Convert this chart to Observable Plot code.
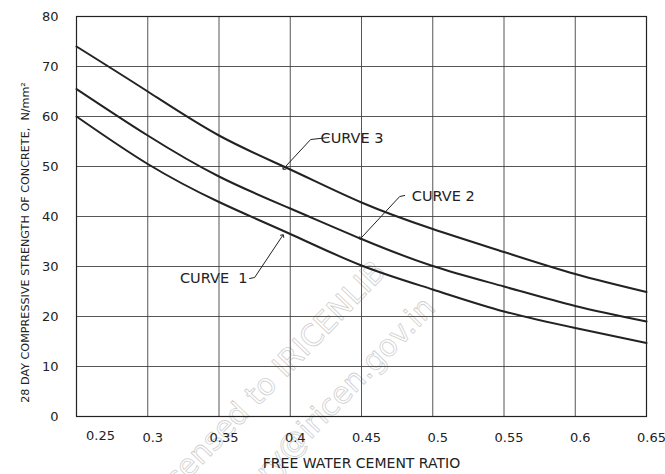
<!DOCTYPE html>
<html>
<head>
<meta charset="utf-8">
<script src="https://cdn.jsdelivr.net/npm/d3@7"></script>
<script src="https://cdn.jsdelivr.net/npm/@observablehq/plot@0.6"></script>
<style>
  html, body { margin: 0; padding: 0; background: #fff; }
  #chart svg { display: block; }
</style>
</head>
<body>
<div id="chart"></div>
<script>
// ---- data ----
const waterCementRatio = [0.25, 0.30, 0.35, 0.40, 0.45, 0.50, 0.55, 0.60, 0.65];
const curve1 = [60.0, 50.5, 42.9, 36.5, 30.2, 25.4, 21.0, 17.7, 14.7];
const curve2 = [65.5, 56.2, 48.0, 41.6, 35.5, 30.1, 26.0, 22.1, 19.0];
const curve3 = [74.0, 65.0, 56.2, 49.4, 42.8, 37.5, 32.9, 28.5, 24.9];
const seriesNames = ["CURVE 3", "CURVE 2", "CURVE\u00a0 1"];

const xTicks = [0.25, 0.30, 0.35, 0.40, 0.45, 0.50, 0.55, 0.60, 0.65];
const yTicks = [0, 10, 20, 30, 40, 50, 60, 70, 80];
const xTitle = "FREE WATER CEMENT RATIO";
const yTitle = "28 DAY COMPRESSIVE STRENGTH OF CONCRETE,\u00a0 N/mm\u00b2";

// annotation anchors (data units): label text position, leader tail, elbow, arrow tip
const labelX = [0.4213, 0.4853, 0.3700];
const labelY = [55.6, 44.0, 27.6];
const labelAnchor = ["start", "start", "end"];
const leaderTailX = [0.4270, 0.4803, 0.3715];
const leaderTailY = [55.8, 44.2, 27.6];
const leaderElbowX = [0.4143, 0.4768, 0.3750];
const leaderElbowY = [55.4, 44.0, 27.8];
const leaderTipX = [0.3954, 0.4494, 0.3947];
const leaderTipY = [49.6, 35.6, 36.2];

// watermark
const watermarkText = ["licensed to IRICENLIB", "library@iricen.gov.in"];
const watermarkX = [0.3853, 0.4227];
const watermarkY = [7.0, 0.6];

// ---- build tables ----
const curves = [
  {name: seriesNames[2], values: curve1},
  {name: seriesNames[1], values: curve2},
  {name: seriesNames[0], values: curve3}
].flatMap(s => s.values.map((v, i) => ({series: s.name, x: waterCementRatio[i], y: v})));

const labels = seriesNames.map((n, i) => ({name: n, x: labelX[i], y: labelY[i], anchor: labelAnchor[i]}));
const leaders = seriesNames.flatMap((n, i) => [
  {series: n, x: leaderTailX[i], y: leaderTailY[i]},
  {series: n, x: leaderElbowX[i], y: leaderElbowY[i]},
  {series: n, x: leaderTipX[i], y: leaderTipY[i]}
]);
const watermarks = watermarkText.map((t, i) => ({t, x: watermarkX[i], y: watermarkY[i]}));

const ink = "#222";
const fmt = d => String(+d.toFixed(2));

const chart = Plot.plot({
  width: 665,
  height: 474,
  marginTop: 16,
  marginBottom: 58,
  marginLeft: 76,
  marginRight: 19,
  style: {fontFamily: "DejaVu Sans, sans-serif", color: ink, background: "#fff"},
  x: {domain: [0.25, 0.65]},
  y: {domain: [0, 80]},
  marks: [
    // watermark (faint outlined text)
    Plot.text(watermarks, {
      x: "x", y: "y", text: "t", rotate: -46,
      fontSize: 30, fill: "none", stroke: "#cfcfcf", strokeWidth: 0.8,
      fontFamily: "DejaVu Sans, sans-serif"
    }),
    Plot.gridX(xTicks, {stroke: "#3a3a3a", strokeOpacity: 0.85, strokeWidth: 1}),
    Plot.gridY(yTicks, {stroke: "#3a3a3a", strokeOpacity: 0.85, strokeWidth: 1}),
    Plot.frame({stroke: ink, strokeWidth: 1.2}),
    Plot.axisY(yTicks, {
      tickSize: 0, tickPadding: 18, fontSize: 13, label: null, tickFormat: d => String(d)
    }),
    Plot.axisX(xTicks.slice(1), {
      tickSize: 0, tickPadding: 16, dx: 5, fontSize: 13, label: null, tickFormat: fmt
    }),
    Plot.text(xTicks.slice(0, 1), {
      x: d => d, frameAnchor: "bottom", dy: 23, dx: 24, fontSize: 13, fill: ink, text: fmt
    }),
    Plot.text([xTitle], {
      frameAnchor: "bottom", dy: 51, fontSize: 14, fill: ink, text: d => d
    }),
    Plot.text([yTitle], {
      frameAnchor: "left", textAnchor: "middle", rotate: -90, dx: -51, dy: 26,
      fontSize: 11.2, fill: ink, text: d => d
    }),
    // curves
    Plot.line(curves, {
      x: "x", y: "y", z: "series", stroke: ink, strokeWidth: 2, curve: "natural"
    }),
    // leaders with arrow heads
    Plot.line(leaders, {
      x: "x", y: "y", z: "series", stroke: ink, strokeWidth: 1, markerEnd: "arrow"
    }),
    Plot.text(labels.filter(d => d.anchor === "start"), {
      x: "x", y: "y", text: "name", textAnchor: "start", fontSize: 14.5, fill: ink
    }),
    Plot.text(labels.filter(d => d.anchor === "end"), {
      x: "x", y: "y", text: "name", textAnchor: "end", fontSize: 14.5, fill: ink
    })
  ]
});

document.getElementById("chart").appendChild(chart);
</script>
</body>
</html>
